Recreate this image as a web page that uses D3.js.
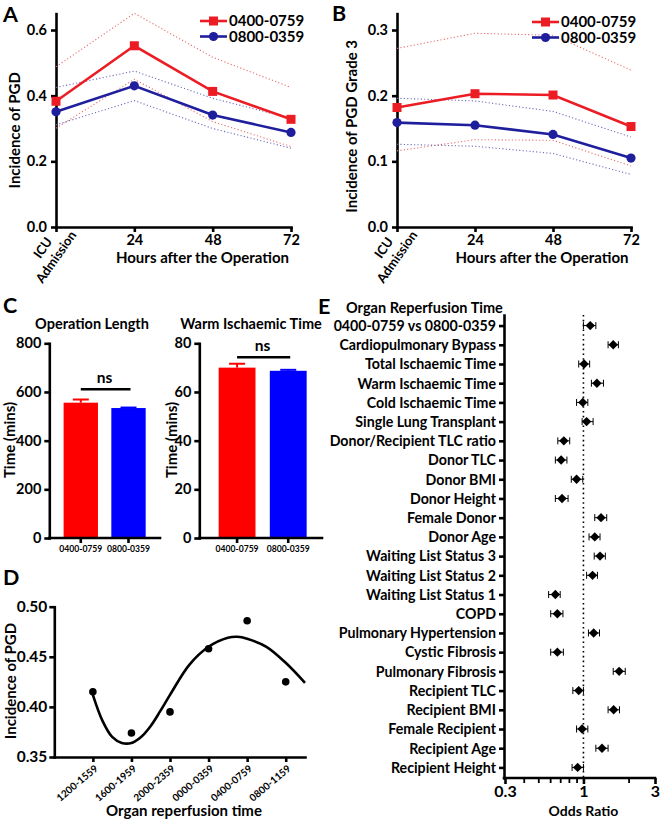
<!DOCTYPE html>
<html><head><meta charset="utf-8">
<script src="https://cdn.jsdelivr.net/npm/d3@7"></script>
<style>
body{margin:0;background:#fff}
svg{display:block}
text{font-family:Lato,"Open Sans",sans-serif;font-weight:700;fill:#000}
</style></head><body>
<svg id="fig" width="661" height="820"></svg>
<script>
// ---------- DATA ----------
const hours = [0, 24, 48, 72];
const hourTickLabels = ["ICU Admission", "24", "48", "72"];
const seriesNames = ["0400-0759", "0800-0359"];

// Panel A: incidence of PGD
const pgdEarly      = [0.383, 0.552, 0.413, 0.328];
const pgdEarlyUpper = [0.488, 0.651, 0.517, 0.425];
const pgdEarlyLower = [0.301, 0.450, 0.321, 0.245];
const pgdOther      = [0.351, 0.430, 0.341, 0.288];
const pgdOtherUpper = [0.425, 0.475, 0.392, 0.331];
const pgdOtherLower = [0.311, 0.385, 0.300, 0.240];

// Panel B: incidence of PGD grade 3
const g3Early      = [0.182, 0.203, 0.201, 0.153];
const g3EarlyUpper = [0.272, 0.295, 0.292, 0.239];
const g3EarlyLower = [0.116, 0.133, 0.132, 0.093];
const g3Other      = [0.159, 0.155, 0.141, 0.105];
const g3OtherUpper = [0.196, 0.192, 0.176, 0.137];
const g3OtherLower = [0.126, 0.123, 0.112, 0.080];

// Panel C: bars (mean, SEM)
const opLengthMean = [556, 534];
const opLengthErr  = [13, 2];
const warmMean = [70.0, 68.7];
const warmErr  = [1.6, 0.4];

// Panel D
const reperfusionTimes = ["1200-1559", "1600-1959", "2000-2359", "0000-0359", "0400-0759", "0800-1159"];
const reperfusionPGD   = [0.415, 0.374, 0.395, 0.458, 0.486, 0.425];
const fitX = [1, 1.25, 1.5, 1.75, 2, 2.25, 2.5, 2.75, 3, 3.5, 4, 4.5, 4.75, 5, 5.5, 6, 6.5];
const fitY = [0.412, 0.386, 0.370, 0.364, 0.364, 0.370, 0.381, 0.396, 0.412, 0.442, 0.460, 0.469, 0.470, 0.468, 0.460, 0.444, 0.424];

// Panel E: odds ratios
const predictors = ["0400-0759 vs 0800-0359", "Cardiopulmonary Bypass", "Total Ischaemic Time", "Warm Ischaemic Time",
  "Cold Ischaemic Time", "Single Lung Transplant", "Donor/Recipient TLC ratio", "Donor TLC", "Donor BMI",
  "Donor Height", "Female Donor", "Donor Age", "Waiting List Status 3", "Waiting List Status 2",
  "Waiting List Status 1", "COPD", "Pulmonary Hypertension", "Cystic Fibrosis", "Pulmonary Fibrosis",
  "Recipient TLC", "Recipient BMI", "Female Recipient", "Recipient Age", "Recipient Height"];
const oddsRatio = [1.11, 1.58, 1.01, 1.23, 0.99, 1.05, 0.74, 0.71, 0.90, 0.72, 1.31, 1.19, 1.29, 1.15, 0.65, 0.67, 1.17, 0.67, 1.73, 0.93, 1.59, 0.98, 1.33, 0.915];
const orLow  = [1.00, 1.46, 0.93, 1.13, 0.90, 0.98, 0.675, 0.65, 0.83, 0.65, 1.19, 1.09, 1.18, 1.05, 0.586, 0.605, 1.08, 0.605, 1.58, 0.85, 1.46, 0.90, 1.21, 0.84];
const orHigh = [1.21, 1.71, 1.10, 1.36, 1.07, 1.16, 0.81, 0.776, 0.99, 0.79, 1.43, 1.29, 1.40, 1.24, 0.70, 0.73, 1.28, 0.735, 1.90, 1.00, 1.74, 1.07, 1.46, 1.00];
const orTicks = [0.3, 1, 3];
const orMinorTicks = [0.4, 0.5, 0.6, 0.7, 0.8, 0.9, 2];

// ---------- STYLE ----------
const RED = "#ec1c24", BLUE = "#1f1f9e";
const RED_DOT = "#e87070", BLUE_DOT = "#6f6fbf";
const BAR_RED = "#ff0000", BAR_BLUE = "#0000ff";
const AXW = 2.6;

const svg = d3.select("#fig");

function styleAxis(g, fs) {
  g.attr("font-family", null).attr("font-size", null);
  g.select(".domain").attr("stroke", "#000").attr("stroke-width", AXW).attr("stroke-linecap", "square");
  g.selectAll(".tick line").attr("stroke", "#000").attr("stroke-width", AXW);
  g.selectAll(".tick text").attr("font-size", fs).attr("fill", "#000");
  return g;
}
function panelLabel(t, x, y) {
  svg.append("text").attr("x", x).attr("y", y).attr("font-size", 21.5).text(t);
}

// ---------- LINE PANELS (A, B) ----------
function linePanel(cfg) {
  const g = svg.append("g");
  const x = d3.scaleLinear().domain([0, 72]).range([cfg.x0, cfg.x1]);
  const y = d3.scaleLinear().domain([0, cfg.ymax]).range([cfg.y0, cfg.ytop]);

  const ya = g.append("g").attr("transform", `translate(${cfg.x0},0)`)
    .call(d3.axisLeft(y).tickValues(cfg.yticks).tickFormat(d3.format(".1f")).tickSize(5).tickSizeOuter(0).tickPadding(4));
  styleAxis(ya, 14.5);
  const xa = g.append("g").attr("transform", `translate(0,${cfg.y0})`)
    .call(d3.axisBottom(x).tickValues(hours).tickFormat((d, i) => i === 0 ? "" : hourTickLabels[i]).tickSize(5).tickSizeOuter(0).tickPadding(3));
  styleAxis(xa, 14.5);
  // two-line rotated first tick label
  const lab = hourTickLabels[0].split(" ");
  const tl = g.append("g").attr("transform", `translate(${x(0) - 7},${cfg.y0 + 25}) rotate(-55)`);
  tl.append("text").attr("text-anchor", "middle").attr("font-size", 13).attr("y", -3).text(lab[0]);
  tl.append("text").attr("text-anchor", "middle").attr("font-size", 13).attr("y", 13).text(lab[1]);

  const line = d3.line().x((d, i) => x(hours[i])).y(d => y(d));
  const dotted = [[cfg.eU, RED_DOT], [cfg.eL, RED_DOT], [cfg.oU, BLUE_DOT], [cfg.oL, BLUE_DOT]];
  dotted.forEach(([arr, c]) => g.append("path").attr("d", line(arr)).attr("fill", "none")
    .attr("stroke", c).attr("stroke-width", 1.1).attr("stroke-dasharray", "1.2,2.2"));

  g.append("path").attr("d", line(cfg.o)).attr("fill", "none").attr("stroke", BLUE).attr("stroke-width", 2.6);
  g.append("path").attr("d", line(cfg.e)).attr("fill", "none").attr("stroke", RED).attr("stroke-width", 2.6);
  g.selectAll(".sq").data(cfg.e).enter().append("rect")
    .attr("x", (d, i) => x(hours[i]) - 4.5).attr("y", d => y(d) - 4.5).attr("width", 9).attr("height", 9).attr("fill", RED);
  g.selectAll(".ci").data(cfg.o).enter().append("circle")
    .attr("cx", (d, i) => x(hours[i])).attr("cy", d => y(d)).attr("r", 4.6).attr("fill", BLUE);

  // legend
  const lg = g.append("g");
  [[RED, "sq"], [BLUE, "ci"]].forEach(([c, m], i) => {
    const yy = cfg.legY + i * 15.5;
    lg.append("line").attr("x1", cfg.legX).attr("x2", cfg.legX + 27).attr("y1", yy).attr("y2", yy).attr("stroke", c).attr("stroke-width", 2.6);
    if (m === "sq") lg.append("rect").attr("x", cfg.legX + 13.5 - 4.5).attr("y", yy - 4.5).attr("width", 9).attr("height", 9).attr("fill", c);
    else lg.append("circle").attr("cx", cfg.legX + 13.5).attr("cy", yy).attr("r", 4.6).attr("fill", c);
    lg.append("text").attr("x", cfg.legX + 29).attr("y", yy).attr("dy", "0.36em").attr("font-size", 15).attr("font-weight", 400).text(seriesNames[i]);
  });

  g.append("text").attr("transform", `translate(${cfg.ytX},${(cfg.y0 + cfg.ytop) / 2 + cfg.ytDy}) rotate(-90)`)
    .attr("text-anchor", "middle").attr("font-size", 15).text(cfg.ytitle);
  g.append("text").attr("x", (cfg.x0 + cfg.x1) / 2 + cfg.xtDx).attr("y", 263).attr("text-anchor", "middle").attr("font-size", 15).text("Hours after the Operation");
}

linePanel({x0: 56, x1: 291, y0: 227, ytop: 13.6, ymax: 0.65, yticks: [0, 0.2, 0.4, 0.6],
  e: pgdEarly, eU: pgdEarlyUpper, eL: pgdEarlyLower, o: pgdOther, oU: pgdOtherUpper, oL: pgdOtherLower,
  legX: 200, legY: 21, ytitle: "Incidence of PGD", ytX: 20, ytDy: 10, xtDx: 29});
linePanel({x0: 397, x1: 631, y0: 227, ytop: 13.6, ymax: 0.325, yticks: [0, 0.1, 0.2, 0.3],
  e: g3Early, eU: g3EarlyUpper, eL: g3EarlyLower, o: g3Other, oU: g3OtherUpper, oL: g3OtherLower,
  legX: 532, legY: 22, ytitle: "Incidence of PGD Grade 3", ytX: 357, ytDy: 6, xtDx: 28});
panelLabel("A", 3, 21.5);
panelLabel("B", 332, 21);

// ---------- BAR PANELS (C) ----------
function barPanel(cfg) {
  const g = svg.append("g");
  const x = d3.scaleBand().domain(seriesNames).range([cfg.x0 + cfg.padL, cfg.x1]).paddingInner(0.28).paddingOuter(0.3);
  const y = d3.scaleLinear().domain([0, cfg.ymax]).range([538, 343.3]);
  const cols = [BAR_RED, BAR_BLUE];
  g.selectAll(".bar").data(cfg.mean).enter().append("rect")
    .attr("x", (d, i) => x(seriesNames[i])).attr("width", x.bandwidth())
    .attr("y", d => y(d)).attr("height", d => y(0) - y(d)).attr("fill", (d, i) => cols[i]);
  cfg.mean.forEach((m, i) => {
    const cx = x(seriesNames[i]) + x.bandwidth() / 2;
    g.append("line").attr("x1", cx).attr("x2", cx).attr("y1", y(m)).attr("y2", y(m + cfg.err[i])).attr("stroke", cols[i]).attr("stroke-width", 2);
    g.append("line").attr("x1", cx - 8).attr("x2", cx + 8).attr("y1", y(m + cfg.err[i])).attr("y2", y(m + cfg.err[i])).attr("stroke", cols[i]).attr("stroke-width", 2);
  });
  const ya = g.append("g").attr("transform", `translate(${cfg.x0},0)`)
    .call(d3.axisLeft(y).ticks(4).tickSize(5).tickSizeOuter(0).tickPadding(3));
  styleAxis(ya, 14.5);
  const xa = g.append("g").attr("transform", `translate(0,538)`)
    .call(d3.axisBottom(x).tickSize(5).tickSizeOuter(0).tickPadding(3));
  xa.select(".domain").attr("d", `M${cfg.x0},0H${cfg.x1}`);
  styleAxis(xa, 8.6);
  // significance
  const c0 = x(seriesNames[0]) + x.bandwidth() / 2, c1 = x(seriesNames[1]) + x.bandwidth() / 2;
  g.append("line").attr("x1", c0).attr("x2", c1 + 2).attr("y1", cfg.nsY).attr("y2", cfg.nsY).attr("stroke", "#000").attr("stroke-width", 2.4);
  g.append("text").attr("x", (c0 + c1) / 2).attr("y", cfg.nsY - 6).attr("text-anchor", "middle").attr("font-size", 15.5).attr("font-weight", 400).text("ns");
  g.append("text").attr("x", cfg.titleX).attr("y", 329).attr("text-anchor", "middle").attr("font-size", 14.5).text(cfg.title);
  g.append("text").attr("transform", `translate(${cfg.ytX},440) rotate(-90)`).attr("text-anchor", "middle").attr("font-size", 15).text("Time (mins)");
}
barPanel({x0: 49.3, x1: 160, padL: 0, ymax: 800, mean: opLengthMean, err: opLengthErr, nsY: 389.3, title: "Operation Length", titleX: 92, ytX: 15});
barPanel({x0: 199.3, x1: 322, padL: 4, ymax: 80, mean: warmMean, err: warmErr, nsY: 357.3, title: "Warm Ischaemic Time", titleX: 251, ytX: 177});
panelLabel("C", 3, 313);

// ---------- PANEL D ----------
(function () {
  const g = svg.append("g");
  const x = d3.scaleLinear().domain([0, 6.5]).range([54.3, 305]);
  const y = d3.scaleLinear().domain([0.35, 0.50]).range([757, 606.7]);
  const ya = g.append("g").attr("transform", "translate(54.3,0)")
    .call(d3.axisLeft(y).tickValues([0.35, 0.40, 0.45, 0.50]).tickFormat(d3.format(".2f")).tickSize(5).tickSizeOuter(0).tickPadding(2));
  styleAxis(ya, 15.5);
  const xa = g.append("g").attr("transform", "translate(0,757)")
    .call(d3.axisBottom(x).tickValues(d3.range(1, 7)).tickFormat((d, i) => reperfusionTimes[i]).tickSize(5).tickSizeOuter(0));
  styleAxis(xa, 10);
  xa.selectAll(".tick text").attr("y", 0).attr("dy", "0.35em").attr("text-anchor", "end")
    .attr("transform", "translate(3,10) rotate(-40)");
  const line = d3.line().x((d, i) => x(fitX[i])).y(d => y(d)).curve(d3.curveCatmullRom.alpha(0.5));
  g.append("path").attr("d", line(fitY)).attr("fill", "none").attr("stroke", "#000").attr("stroke-width", 2.6);
  g.selectAll(".pt").data(reperfusionPGD).enter().append("circle")
    .attr("cx", (d, i) => x(i + 1)).attr("cy", d => y(d)).attr("r", 3.8).attr("fill", "#000");
  g.append("text").attr("transform", "translate(16,681) rotate(-90)").attr("text-anchor", "middle").attr("font-size", 15).text("Incidence of PGD");
  g.append("text").attr("x", 184).attr("y", 816).attr("text-anchor", "middle").attr("font-size", 15).text("Organ reperfusion time");
  panelLabel("D", 3, 585);
})();

// ---------- PANEL E ----------
(function () {
  const g = svg.append("g");
  const x = d3.scaleLog().domain([0.3, 3]).range([505, 655]);
  const y = d3.scalePoint().domain(predictors).range([315, 778]).padding(0.55);
  const ya = g.append("g").attr("transform", "translate(504,0)")
    .call(d3.axisLeft(y).tickSize(5).tickSizeOuter(0).tickPadding(3));
  styleAxis(ya, 14.2);
  ya.selectAll(".tick text").attr("dy", "0.34em");
  const xa = g.append("g").attr("transform", "translate(0,778)")
    .call(d3.axisBottom(x).tickValues(orTicks).tickFormat(d => String(d)).tickSize(6).tickSizeOuter(0).tickPadding(2));
  styleAxis(xa, 16);
  xa.select(".domain").attr("d", "M504,0H655");
  const xm = g.append("g").attr("transform", "translate(0,778)")
    .call(d3.axisBottom(x).tickValues(orMinorTicks).tickFormat("").tickSize(5).tickSizeOuter(0));
  xm.select(".domain").remove();
  xm.selectAll(".tick line").attr("stroke", "#000").attr("stroke-width", 1.8);
  // reference line at OR = 1
  g.append("line").attr("x1", x(1)).attr("x2", x(1)).attr("y1", 315).attr("y2", 778)
    .attr("stroke", "#000").attr("stroke-width", 1.6).attr("stroke-dasharray", "1.6,3.2");
  predictors.forEach((p, i) => {
    const yy = y(p);
    g.append("line").attr("x1", x(orLow[i])).attr("x2", x(orHigh[i])).attr("y1", yy).attr("y2", yy).attr("stroke", "#000").attr("stroke-width", 1);
    [orLow[i], orHigh[i]].forEach(v => g.append("line").attr("x1", x(v)).attr("x2", x(v)).attr("y1", yy - 3.5).attr("y2", yy + 3.5).attr("stroke", "#000").attr("stroke-width", 1));
    g.append("path").attr("d", d3.symbol(d3.symbolSquare, 44)()).attr("transform", `translate(${x(oddsRatio[i])},${yy}) rotate(45)`).attr("fill", "#000");
  });
  g.append("text").attr("x", 346).attr("y", 313).attr("font-size", 14.5).text("Organ Reperfusion Time");
  g.append("text").attr("x", x(1)).attr("y", 816).attr("text-anchor", "middle").attr("font-size", 14).text("Odds Ratio");
  panelLabel("E", 318, 314);
})();
</script>
</body></html>
